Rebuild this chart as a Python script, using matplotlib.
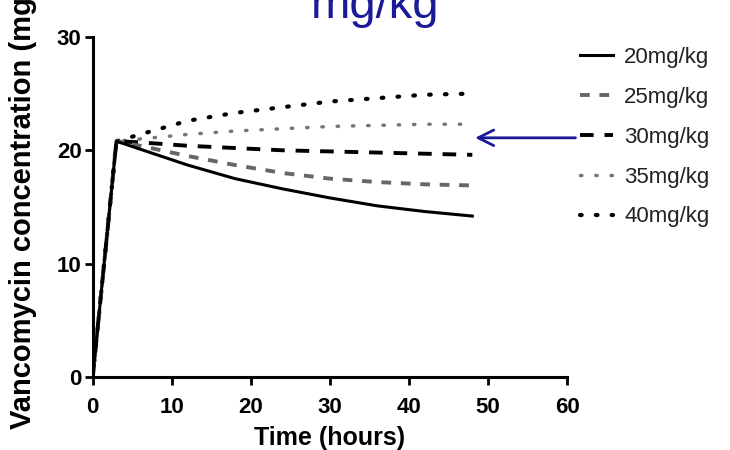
import matplotlib.pyplot as plt

plt.rcParams['font.family'] = ['Liberation Sans', 'DejaVu Sans']

# time points (hours) and concentrations (mg/L) per dose
hours = [0, 3, 6, 12, 18, 24, 30, 36, 42, 48]
dose_20 = [0, 20.8, 20.1, 18.7, 17.5, 16.6, 15.8, 15.1, 14.6, 14.2]
dose_25 = [0, 20.8, 20.4, 19.5, 18.7, 18.0, 17.5, 17.2, 17.0, 16.9]
dose_30 = [0, 20.8, 20.7, 20.4, 20.2, 20.0, 19.9, 19.8, 19.7, 19.6]
dose_35 = [0, 20.8, 21.0, 21.4, 21.7, 21.9, 22.1, 22.2, 22.3, 22.3]
dose_40 = [0, 20.8, 21.4, 22.6, 23.3, 23.8, 24.3, 24.6, 24.9, 25.0]
labels = ['20mg/kg', '25mg/kg', '30mg/kg', '35mg/kg', '40mg/kg']

fig = plt.figure(figsize=(7.3, 4.5), dpi=100)
ax = fig.add_axes([0.127, 0.162, 0.65, 0.756])

ax.plot(hours, dose_40, color='black', lw=3, linestyle=(0, (0.4, 3.4)), dash_capstyle='round', label=labels[4])
ax.plot(hours, dose_35, color='#777777', lw=2.5, linestyle=(0, (0.4, 4)), dash_capstyle='round', label=labels[3])
ax.plot(hours, dose_30, color='black', lw=2.8, linestyle=(0, (3.5, 2.8)), label=labels[2])
ax.plot(hours, dose_25, color='#666666', lw=2.8, linestyle=(0, (2.5, 2.5)), label=labels[1])
ax.plot(hours, dose_20, color='black', lw=2.2, label=labels[0])

handles, labs = ax.get_legend_handles_labels()
order = [4, 3, 2, 1, 0]
leg = ax.legend([handles[i] for i in order], [labs[i] for i in order],
                loc='upper left', bbox_to_anchor=(1.005, 1.0), frameon=False,
                fontsize=16, handlelength=1.5, handletextpad=0.5,
                labelspacing=0.85, borderaxespad=0.05)
for t in leg.get_texts():
    t.set_color('#222222')

ax.set_xlim(0, 60)
ax.set_ylim(0, 30)
ax.set_xticks(range(0, 61, 10))
ax.set_yticks([0, 10, 20, 30])
for s in ['top', 'right']:
    ax.spines[s].set_visible(False)
for s in ['left', 'bottom']:
    ax.spines[s].set_linewidth(2.2)
ax.tick_params(direction='out', length=6, width=2, labelsize=16, pad=2)
ax.tick_params(axis='x', pad=8)
for lbl in ax.get_xticklabels() + ax.get_yticklabels():
    lbl.set_fontweight('bold')

ax.set_xlabel('Time (hours)', fontsize=18, fontweight='bold', labelpad=6)
# label runs past the top edge, as in the source figure
ax.set_ylabel('Vancomycin concentration (mg/L)', fontsize=21, fontweight='bold')
ax.yaxis.set_label_coords(-0.118, 0.535)

ax.annotate('', xy=(48.0, 21.1), xytext=(61.4, 21.1),
            arrowprops=dict(arrowstyle='->', color='#1a1a9a', lw=2, mutation_scale=28),
            annotation_clip=False)

fig.text(0.514, 0.96, 'mg/kg', fontsize=34, color='#1a1a9a', ha='center', va='baseline')

fig.savefig('out.png', dpi=100)
